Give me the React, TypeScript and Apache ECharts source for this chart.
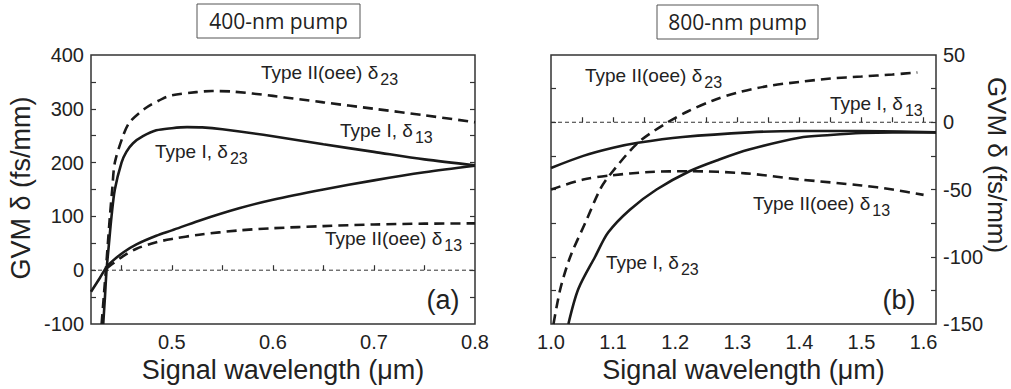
import React, { useEffect, useRef } from "react";
import * as echarts from "echarts";

// ---- Panel (a): 400-nm pump ----
const A_X_LABELS = [0.5, 0.6, 0.7, 0.8];
const A_X_TICKS = [0.45, 0.5, 0.55, 0.6, 0.65, 0.7, 0.75];
const A_Y_LABELS = [-100, 0, 100, 200, 300, 400];
const A_Y_TICKS = [-50, 0, 50, 100, 150, 200, 250, 300, 350];

const A_TYPE1_D23 = [
  [0.4321, -100], [0.4338, -50], [0.4354, 0], [0.4378, 50], [0.4403, 100],
  [0.4436, 150], [0.4502, 200], [0.455, 220], [0.4616, 236], [0.4714, 249],
  [0.4846, 260], [0.5, 264], [0.515, 266], [0.53, 265.5], [0.55, 262],
  [0.6, 249], [0.65, 234], [0.7, 220], [0.75, 206], [0.8, 195],
];
const A_TYPE2_D23 = [
  [0.4305, -100], [0.4326, -50], [0.4347, 0], [0.4367, 50], [0.4387, 100],
  [0.441, 150], [0.4436, 200], [0.4518, 250], [0.4583, 275], [0.4731, 300],
  [0.491, 319], [0.5, 325], [0.524, 331], [0.54, 333], [0.56, 332],
  [0.6, 324], [0.65, 312], [0.7, 300], [0.75, 288], [0.8, 275],
];
const A_TYPE1_D13 = [
  [0.42, -40], [0.4289, -14], [0.4354, 6], [0.44, 15], [0.4518, 33],
  [0.465, 48], [0.4846, 64], [0.5, 74], [0.527, 92], [0.5665, 115],
  [0.6, 131], [0.65, 150], [0.7, 167], [0.75, 182], [0.8, 194],
];
const A_TYPE2_D13 = [
  [0.4354, 3], [0.44, 10], [0.4518, 26], [0.465, 40], [0.4846, 52],
  [0.5, 58], [0.527, 66], [0.5665, 74], [0.6, 78], [0.65, 82],
  [0.7, 85], [0.75, 86.5], [0.8, 87],
];
const A_ZERO = [[0.42, 0], [0.8, 0]];

// ---- Panel (b): 800-nm pump ----
const B_X_LABELS = [1.0, 1.1, 1.2, 1.3, 1.4, 1.5, 1.6];
const B_X_TICKS = [1.05, 1.1, 1.15, 1.2, 1.25, 1.3, 1.35, 1.4, 1.45, 1.5, 1.55, 1.6];
const B_Y_LABELS = [-150, -100, -50, 0, 50];
const B_Y_TICKS = [-125, -100, -75, -50, -25, 0, 25];

const B_TYPE1_D13 = [
  [1.0, -34], [1.052, -25], [1.1, -19], [1.14, -15.3], [1.212, -11],
  [1.319, -7.5], [1.4, -6.5], [1.5, -6.5], [1.62, -7.5],
];
const B_TYPE1_D23 = [
  [1.028, -150], [1.044, -124], [1.071, -100], [1.092, -82], [1.127, -65],
  [1.17, -50], [1.223, -36.4], [1.271, -27.7], [1.319, -20.3], [1.4, -11.5],
  [1.45, -9.5], [1.5, -8], [1.55, -7.5], [1.62, -7.5],
];
const B_TYPE2_D23 = [
  [1.004, -150], [1.015, -124], [1.031, -100], [1.055, -75], [1.079, -50],
  [1.095, -39], [1.14, -15.3], [1.188, 0], [1.22, 8], [1.26, 16],
  [1.3, 22], [1.35, 27], [1.4, 30], [1.45, 32.5], [1.5, 34], [1.55, 35.5],
  [1.59, 37],
];
const B_TYPE2_D13 = [
  [1.0, -50], [1.052, -42.6], [1.095, -39.6], [1.159, -37], [1.223, -36.4],
  [1.313, -38], [1.4, -42.5], [1.5, -47], [1.55, -50], [1.6, -54],
];
const B_ZERO = [[1.0, 0], [1.62, 0]];

const FONT = '"Liberation Sans", Arial, Helvetica, sans-serif';
const INK = "#1a1a1a";
const TEXT = "#222";
const FRAME = "#333";

const solid = (name: string, data: number[][], xi: number, yi: number) => ({
  name,
  type: "line",
  xAxisIndex: xi,
  yAxisIndex: yi,
  data,
  symbol: "none",
  smooth: 0.3,
  clip: true,
  lineStyle: { color: INK, width: 2.6 },
  z: 3,
});

const dashed = (name: string, data: number[][], xi: number, yi: number) => ({
  ...solid(name, data, xi, yi),
  lineStyle: { color: INK, width: 2.6, type: [10, 6] },
});

const zeroLine = (data: number[][], xi: number, yi: number) => ({
  type: "line",
  xAxisIndex: xi,
  yAxisIndex: yi,
  data,
  symbol: "none",
  silent: true,
  lineStyle: { color: FRAME, width: 1, type: [4, 3] },
  z: 2,
});

// curve annotation with a subscript index on δ
const curveLabel = (x: number, y: number, main: string, sub: string) => ({
  type: "text",
  x,
  y,
  z: 10,
  style: {
    text: `{m|${main}}{s|${sub}}`,
    align: "left",
    textAlign: "left",
    verticalAlign: "middle",
    textVerticalAlign: "middle",
    rich: {
      m: { fontFamily: FONT, fontSize: 19, lineHeight: 20, fill: TEXT },
      s: { fontFamily: FONT, fontSize: 16, lineHeight: 16, padding: [14, 0, 0, 2], fill: TEXT },
    },
  },
});

const plainText = (x: number, y: number, text: string, size: number, rotation = 0, family = FONT) => ({
  type: "text",
  x,
  y,
  rotation,
  z: 10,
  style: {
    text,
    fontFamily: family,
    fontSize: size,
    fill: TEXT,
    align: "center",
    textAlign: "center",
    verticalAlign: "middle",
    textVerticalAlign: "middle",
  },
});

const titleBox = (x: number, y: number, w: number, h: number, text: string) => ({
  type: "group",
  children: [
    {
      type: "rect",
      shape: { x, y, width: w, height: h },
      style: { fill: "#fff", stroke: "#555", lineWidth: 1 },
    },
    plainText(x + w / 2, y + h / 2, text, 21, 0, '"Open Sans", "Noto Sans", sans-serif'),
  ],
});

const xAxisBase = (grid: number, min: number, max: number, labels: number[], ticks: number[]) => ({
  type: "value",
  gridIndex: grid,
  min,
  max,
  axisLine: { show: false },
  splitLine: { show: false },
  axisTick: { inside: true, length: 5, customValues: ticks, lineStyle: { color: FRAME, width: 1.2 } },
  axisLabel: {
    customValues: labels,
    formatter: (v: number) => v.toFixed(1),
    margin: 8,
    fontSize: 20,
    fontFamily: FONT,
    color: TEXT,
  },
  name: "Signal wavelength (μm)",
  nameLocation: "middle",
  nameGap: 32,
  nameTextStyle: { fontSize: 27, fontFamily: FONT, color: TEXT },
});

const yAxisBase = (
  grid: number,
  position: string,
  min: number,
  max: number,
  labels: number[] | null,
  ticks: number[]
) => ({
  type: "value",
  gridIndex: grid,
  position,
  min,
  max,
  axisLine: { show: false },
  splitLine: { show: false },
  axisTick: { inside: true, length: 5, customValues: ticks, lineStyle: { color: FRAME, width: 1.2 } },
  axisLabel: labels
    ? { customValues: labels, margin: 7, fontSize: 20, fontFamily: FONT, color: TEXT }
    : { show: false },
});

export default function App() {
  const ref = useRef<HTMLDivElement>(null);

  useEffect(() => {
    if (!ref.current) return;
    const chart = echarts.init(ref.current, undefined, { renderer: "svg" });

    chart.setOption({
      animation: false,
      backgroundColor: "#fff",
      grid: [
        { left: 91, top: 55, width: 384, height: 269, show: true, borderColor: FRAME, borderWidth: 1.5, backgroundColor: "transparent" },
        { left: 551, top: 55, width: 385, height: 269, show: true, borderColor: FRAME, borderWidth: 1.5, backgroundColor: "transparent" },
      ],
      xAxis: [
        xAxisBase(0, 0.42, 0.8, A_X_LABELS, A_X_TICKS),
        xAxisBase(1, 1.0, 1.62, B_X_LABELS, B_X_TICKS),
      ],
      yAxis: [
        yAxisBase(0, "left", -100, 400, A_Y_LABELS, A_Y_TICKS),
        yAxisBase(0, "right", -100, 400, null, A_Y_TICKS),
        yAxisBase(1, "left", -150, 50, null, B_Y_TICKS),
        yAxisBase(1, "right", -150, 50, B_Y_LABELS, B_Y_TICKS),
      ],
      series: [
        zeroLine(A_ZERO, 0, 0),
        solid("Type I, δ23 (400 nm)", A_TYPE1_D23, 0, 0),
        solid("Type I, δ13 (400 nm)", A_TYPE1_D13, 0, 0),
        dashed("Type II(oee) δ23 (400 nm)", A_TYPE2_D23, 0, 0),
        dashed("Type II(oee) δ13 (400 nm)", A_TYPE2_D13, 0, 0),
        zeroLine(B_ZERO, 1, 3),
        solid("Type I, δ13 (800 nm)", B_TYPE1_D13, 1, 3),
        solid("Type I, δ23 (800 nm)", B_TYPE1_D23, 1, 3),
        dashed("Type II(oee) δ23 (800 nm)", B_TYPE2_D23, 1, 3),
        dashed("Type II(oee) δ13 (800 nm)", B_TYPE2_D13, 1, 3),
      ],
      graphic: [
        titleBox(197, 4, 163, 34, "400-nm pump"),
        titleBox(657, 5, 161, 34, "800-nm pump"),
        plainText(21, 188, "GVM δ (fs/mm)", 27, Math.PI / 2),
        plainText(997, 165, "GVM δ (fs/mm)", 26, -Math.PI / 2),
        curveLabel(261, 72, "Type II(oee) δ", "23"),
        curveLabel(340, 130, "Type I, δ", "13"),
        curveLabel(155, 151, "Type I, δ", "23"),
        curveLabel(325, 238, "Type II(oee) δ", "13"),
        plainText(443, 300, "(a)", 27),
        curveLabel(585, 75, "Type II(oee) δ", "23"),
        curveLabel(830, 103, "Type I, δ", "13"),
        curveLabel(753, 203, "Type II(oee) δ", "13"),
        curveLabel(606, 262, "Type I, δ", "23"),
        plainText(899, 300, "(b)", 27),
      ],
    });

    return () => chart.dispose();
  }, []);

  return (
    <div
      ref={ref}
      style={{ position: "fixed", left: 0, top: 0, width: 1011, height: 389, background: "#fff" }}
    />
  );
}
